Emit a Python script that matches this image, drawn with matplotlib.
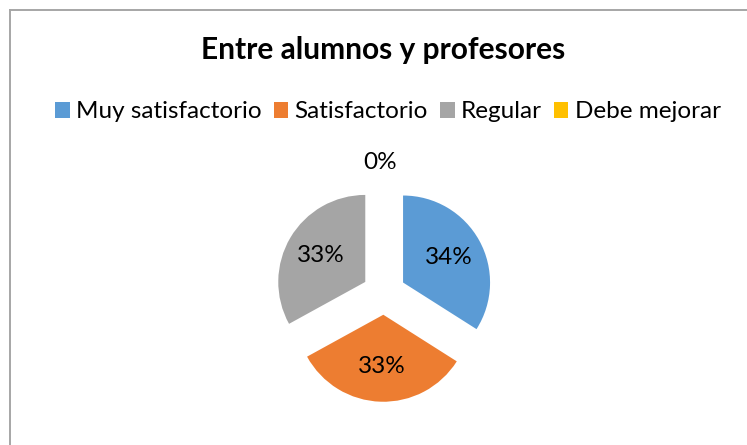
import matplotlib.pyplot as plt
from matplotlib.lines import Line2D
import numpy as np

categories = ["Muy satisfactorio", "Satisfactorio", "Regular", "Debe mejorar"]
values = [34, 33, 33, 0]
colors = ["#5B9BD5", "#ED7D31", "#A5A5A5", "#FFC000"]
title = "Entre alumnos y profesores"

plt.rcParams['font.family'] = ['Lato', 'DejaVu Sans']

W, H = 747, 445
fig = plt.figure(figsize=(W / 100, H / 100), dpi=100)

# chart-area border: only left and top edges are visible in the crop
bx, by = 10 / W, 1 - 10 / H
fig.lines.append(Line2D([bx, bx], [0, by], transform=fig.transFigure, color="#A6A6A6", linewidth=1.4))
fig.lines.append(Line2D([bx, 1], [by, by], transform=fig.transFigure, color="#A6A6A6", linewidth=1.4))

# pie axes: radius 1 == 87 px, centred at (384, 293) px
r_px = 87
half = 150
cx, cy = 384, H - 293
ax = fig.add_axes([(cx - half) / W, (cy - half) / H, 2 * half / W, 2 * half / H])

wedges, texts, autotexts = ax.pie(values, colors=colors, startangle=90, counterclock=False,
                                  explode=[0.25] * 4, autopct="%1.0f%%", pctdistance=0.6,
                                  textprops={"fontsize": 17.5, "color": "black"}, radius=1,
                                  frame=True)
lim = half / r_px
ax.set_xlim(-lim, lim)
ax.set_ylim(-lim, lim)
ax.set_aspect("equal")
ax.axis("off")

# zero slice label sits outside like Excel does
for w, t, v in zip(wedges, autotexts, values):
    if v == 0:
        ang = np.deg2rad(w.theta1)
        t.set_position((1.5 * np.cos(ang) - 0.05, 1.5 * np.sin(ang)))

fig.text(383 / W, 1 - 50 / H, title, ha="center", va="center", fontsize=21.5, fontweight="bold")

fig.legend(wedges, categories, loc="center", bbox_to_anchor=(388 / W, 1 - 112 / H), ncol=4,
           frameon=False, fontsize=17.5, handlelength=0.6, handleheight=0.6,
           handletextpad=0.25, columnspacing=0.5, borderpad=0)

fig.savefig("out.png", dpi=100)
